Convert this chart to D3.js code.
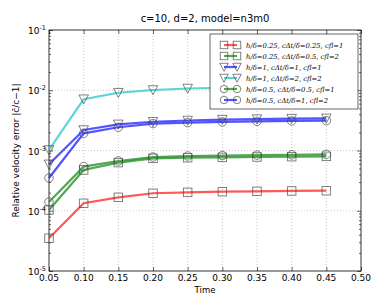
<!DOCTYPE html>
<html>
<head>
<meta charset="utf-8">
<script src="https://cdn.jsdelivr.net/npm/d3@7"></script>
<style>
  body { margin: 0; background: #fff; }
  text { font-family: "DejaVu Sans", sans-serif; }
</style>
</head>
<body>
<div id="chart"></div>
<script>
// data
var times = [0.05, 0.10, 0.15, 0.20, 0.25, 0.30, 0.35, 0.40, 0.45]
var xTicks = [0.05, 0.10, 0.15, 0.20, 0.25, 0.30, 0.35, 0.40, 0.45, 0.50]
var yTicks = [-1, -2, -3, -4, -5]

var red    = [3.5e-5, 1.33e-4, 1.67e-4, 1.95e-4, 2.02e-4, 2.07e-4, 2.1e-4, 2.13e-4, 2.15e-4]
var green1 = [1.03e-4, 4.75e-4, 6.3e-4, 7.4e-4, 7.6e-4, 7.7e-4, 7.8e-4, 7.9e-4, 8.0e-4]
var blue1  = [5.9e-4, 2.19e-3, 2.72e-3, 3.0e-3, 3.15e-3, 3.25e-3, 3.32e-3, 3.38e-3, 3.42e-3]
var cyan   = [1.02e-3, 7.1e-3, 9.1e-3, 1.01e-2, 1.07e-2, 1.1e-2, 1.12e-2, 1.14e-2, 1.15e-2]
var green2 = [1.4e-4, 5.4e-4, 6.7e-4, 7.8e-4, 8.1e-4, 8.25e-4, 8.4e-4, 8.5e-4, 8.65e-4]
var blue2  = [3.5e-4, 1.93e-3, 2.43e-3, 2.8e-3, 2.9e-3, 2.98e-3, 3.05e-3, 3.1e-3, 3.13e-3]

var labels = [
  "h/δ=0.25, cΔt/δ=0.25, cfl=1",
  "h/δ=0.25, cΔt/δ=0.5, cfl=2",
  "h/δ=1, cΔt/δ=1, cfl=1",
  "h/δ=1, cΔt/δ=2, cfl=2",
  "h/δ=0.5, cΔt/δ=0.5, cfl=1",
  "h/δ=0.5, cΔt/δ=1, cfl=2"
]
var colors = ["#ff2020", "#1a8a1a", "#1a1aff", "#20c8c8", "#1a8a1a", "#1a1aff"]
var markers = ["square", "square", "tri", "tri", "circle", "circle"]
var series = [red, green1, blue1, cyan, green2, blue2]

let width = 390
let height = 302
let pL = 49, pR = 361, pT = 30, pB = 271

let svg = d3.select("#chart")
  .append("svg")
  .attr("width", width)
  .attr("height", height)

let x = d3.scaleLinear().domain([0.05, 0.50]).range([pL, pR])
let y = d3.scaleLog().domain([1e-5, 1e-1]).range([pB, pT])

// grid
svg.append("g").selectAll("line")
  .data(xTicks.slice(1, -1))
  .enter().append("line")
  .attr("x1", d => x(d)).attr("x2", d => x(d))
  .attr("y1", pT).attr("y2", pB)
  .attr("stroke", "#b0b0b0").attr("stroke-width", 0.7)
  .attr("stroke-dasharray", "1,2")
svg.append("g").selectAll("line")
  .data(yTicks.slice(1, -1))
  .enter().append("line")
  .attr("x1", pL).attr("x2", pR)
  .attr("y1", d => y(Math.pow(10, d))).attr("y2", d => y(Math.pow(10, d)))
  .attr("stroke", "#b0b0b0").attr("stroke-width", 0.7)
  .attr("stroke-dasharray", "1,2")

// axes with inward ticks
let minor = []
for (let e = -5; e < -1; e++) for (let k = 2; k < 10; k++) minor.push(k * Math.pow(10, e))
let major = yTicks.map(d => Math.pow(10, d))

svg.append("g").attr("transform", "translate(" + pL + ",0)")
  .call(d3.axisRight(y).tickValues(major).tickSize(4).tickFormat(""))
svg.append("g").attr("transform", "translate(" + pL + ",0)")
  .call(d3.axisRight(y).tickValues(minor).tickSize(2).tickFormat(""))
svg.append("g").attr("transform", "translate(" + pR + ",0)")
  .call(d3.axisLeft(y).tickValues(major).tickSize(4).tickFormat(""))
svg.append("g").attr("transform", "translate(" + pR + ",0)")
  .call(d3.axisLeft(y).tickValues(minor).tickSize(2).tickFormat(""))
svg.append("g").attr("transform", "translate(0," + pB + ")")
  .call(d3.axisTop(x).tickValues(xTicks).tickSize(4).tickFormat(""))
svg.append("g").attr("transform", "translate(0," + pT + ")")
  .call(d3.axisBottom(x).tickValues(xTicks).tickSize(4).tickFormat(""))
svg.selectAll(".domain").remove()
svg.selectAll(".tick line").attr("stroke", "#000").attr("stroke-width", 0.6)

svg.append("rect")
  .attr("x", pL).attr("y", pT)
  .attr("width", pR - pL).attr("height", pB - pT)
  .attr("fill", "none").attr("stroke", "#000").attr("stroke-width", 0.8)

// tick labels
svg.append("g").selectAll("text")
  .data(xTicks)
  .enter().append("text")
  .attr("x", d => x(d)).attr("y", pB + 10)
  .attr("text-anchor", "middle")
  .style("font-size", "9px")
  .text(d => d.toFixed(2))

let ylab = svg.append("g").selectAll("text")
  .data(yTicks)
  .enter().append("text")
  .attr("x", pL - 3).attr("y", d => y(Math.pow(10, d)) + 4)
  .attr("text-anchor", "end")
  .style("font-size", "9px")
ylab.append("tspan").text("10")
ylab.append("tspan").attr("dy", -4).style("font-size", "6.5px").text(d => "-" + (-d))

// titles
svg.append("text")
  .attr("x", (pL + pR) / 2).attr("y", 22)
  .attr("text-anchor", "middle")
  .style("font-size", "10px")
  .text("c=10, d=2, model=n3m0")
svg.append("text")
  .attr("x", (pL + pR) / 2).attr("y", 293)
  .attr("text-anchor", "middle")
  .style("font-size", "8.5px")
  .text("Time")
svg.append("text")
  .attr("transform", "translate(19," + ((pT + pB) / 2) + ") rotate(-90)")
  .attr("text-anchor", "middle")
  .style("font-size", "9px")
  .text("Relative velocity error |c\u0304/c\u22121|")

// markers
function drawMarker(g, kind, cx, cy, s) {
  let m
  let h = s / 2
  if (kind == "square") {
    m = g.append("rect").attr("x", cx - h).attr("y", cy - h).attr("width", s).attr("height", s)
  } else if (kind == "circle") {
    m = g.append("circle").attr("cx", cx).attr("cy", cy).attr("r", h)
  } else {
    m = g.append("path").attr("d", "M" + (cx - h - 0.5) + "," + (cy - h) + "L" + (cx + h + 0.5) + "," + (cy - h) + "L" + cx + "," + (cy + h + 0.5) + "Z")
  }
  m.attr("fill", "none").attr("stroke", "#444").attr("stroke-opacity", 0.75).attr("stroke-width", 0.9)
}

let line = d3.line().x((d, i) => x(times[i])).y(d => y(d))
let plot = svg.append("g")
series.forEach(function(s, k) {
  plot.append("path")
    .datum(s)
    .attr("d", line)
    .attr("fill", "none")
    .attr("stroke", colors[k])
    .attr("stroke-opacity", 0.75)
    .attr("stroke-width", 2.2)
})
series.forEach(function(s, k) {
  let g = plot.append("g")
  s.forEach((v, i) => drawMarker(g, markers[k], x(times[i]), y(v), 8.5))
})

// legend
let lx = 210, ly = 34
let legend = svg.append("g")
legend.append("rect")
  .attr("x", lx).attr("y", ly).attr("width", 148).attr("height", 75)
  .attr("fill", "#fff").attr("stroke", "#000").attr("stroke-width", 0.6)
labels.forEach(function(t, k) {
  let yy = ly + 11 + k * 11
  legend.append("line")
    .attr("x1", lx + 14).attr("x2", lx + 27)
    .attr("y1", yy).attr("y2", yy)
    .attr("stroke", colors[k]).attr("stroke-opacity", 0.75).attr("stroke-width", 2.2)
  drawMarker(legend, markers[k], lx + 14, yy, 7.5)
  drawMarker(legend, markers[k], lx + 27, yy, 7.5)
  legend.append("text")
    .attr("x", lx + 36).attr("y", yy + 2.5)
    .style("font-family", "DejaVu Serif, serif")
    .style("font-style", "italic")
    .style("font-size", "6.8px")
    .text(t)
})
</script>
</body>
</html>
